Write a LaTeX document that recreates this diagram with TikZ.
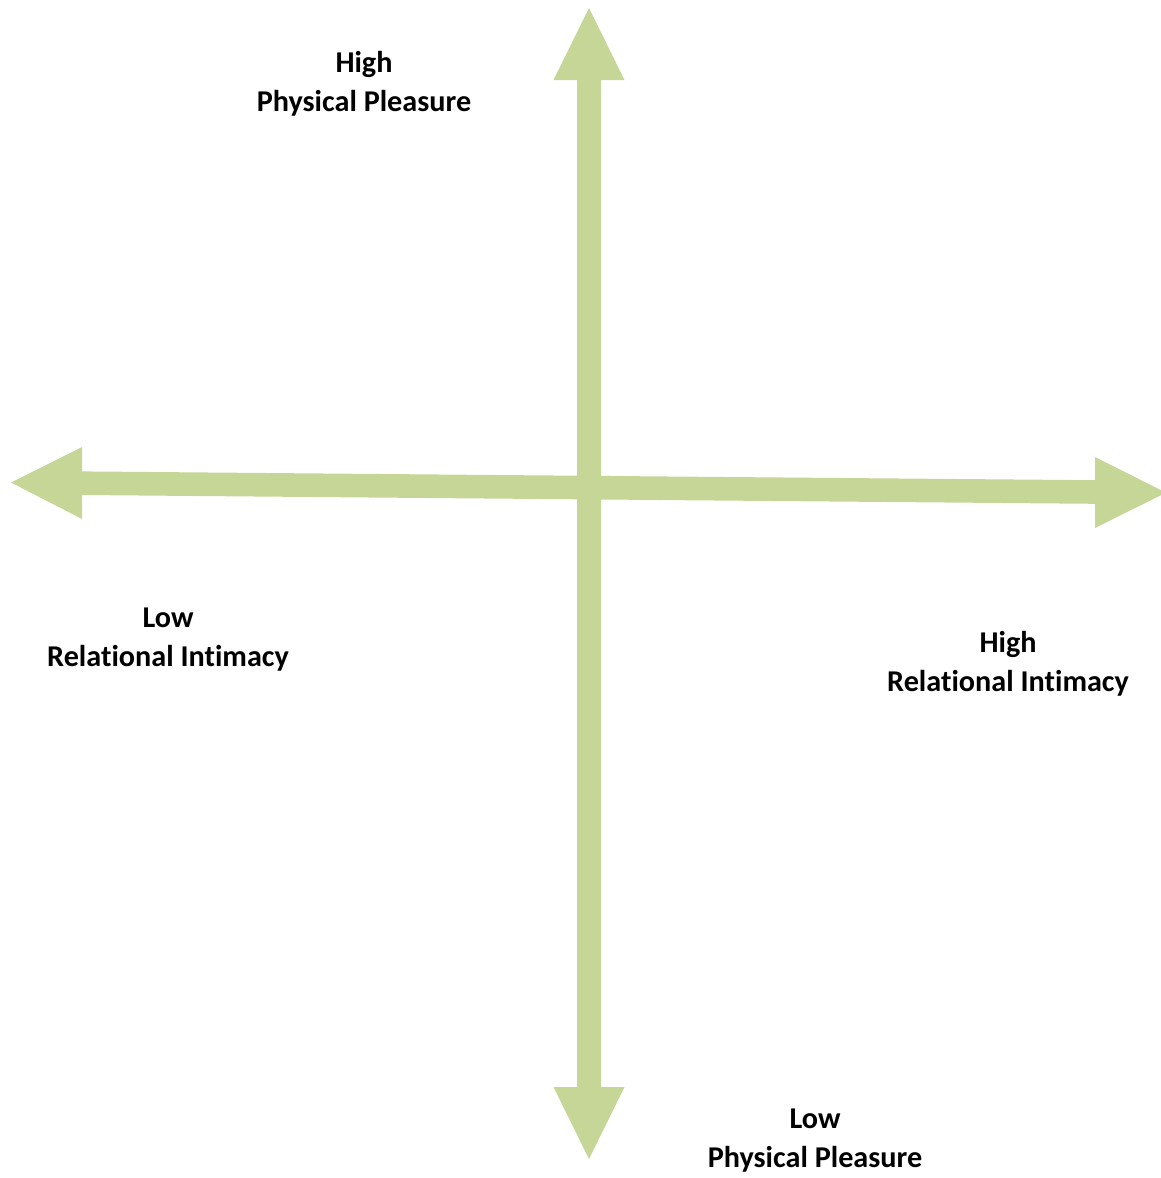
\documentclass[tikz,border=0pt]{standalone}
\usepackage{fontspec}
\setmainfont{Carlito}[Ligatures=NoCommon]
\definecolor{axisgreen}{RGB}{197,214,150}
\begin{document}
\begin{tikzpicture}[x=1pt,y=-1pt,
  axisarrow/.style={fill=axisgreen,draw=none},
  axislabel/.style={font=\bfseries\fontsize{30.2}{39}\selectfont,align=center,
    inner sep=0pt,anchor=base,text=black}]
\useasboundingbox (0,0) rectangle (1161,1178);
% vertical axis: physical pleasure
\fill[axisarrow] (589,8) -- (624.5,80) -- (601,80) -- (601,1087) -- (624.5,1087)
  -- (589,1159) -- (553.5,1087) -- (577,1087) -- (577,80) -- (553.5,80) -- cycle;
% horizontal axis: relational intimacy, rising slightly to the right
\fill[axisarrow] (11,482.5) -- (82,447) -- (82,471.4) -- (1095,480.2) -- (1095,457)
  -- (1166,492.7) -- (1095,528) -- (1095,503.8) -- (82,495) -- (82,519) -- cycle;
% labels (anchored at the baseline of their second line)
\node[axislabel] (hpp) at (364,111.7) {High\\Physical Pleasure};
\node[axislabel] (lri) at (168,666.3) {Low\\Relational Intimacy};
\node[axislabel] (hri) at (1008,691.3) {High\\Relational Intimacy};
\node[axislabel] (lpp) at (815,1167.3) {Low\\Physical Pleasure};
\end{tikzpicture}
\end{document}
